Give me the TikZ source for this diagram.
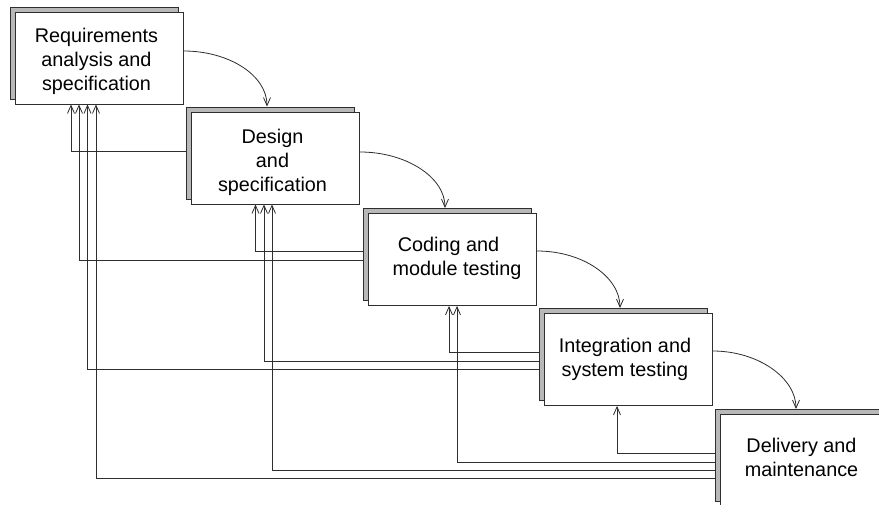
\documentclass[tikz,border=0pt]{standalone}
\usepackage{fontspec}
\setmainfont{Liberation Sans}
\usetikzlibrary{arrows.meta,shadows,backgrounds}
\definecolor{edge}{HTML}{2E2E2E}
\definecolor{shade}{HTML}{B8B8B8}
\begin{document}
\begin{tikzpicture}[x=1pt,y=-1pt,
  phase/.style={draw=edge, line width=0.9pt, fill=white,
    minimum width=168pt, minimum height=92pt, inner sep=0pt,
    general shadow={fill=shade, draw=edge, line width=0.9pt,
      shadow xshift=-5pt, shadow yshift=5pt}},
  caption/.style={align=center, inner sep=0pt,
    font=\fontsize{19.8}{24}\selectfont},
  flow/.style={draw=edge, line width=0.8pt,
    -{Straight Barb[length=8pt,width=7pt]}},
  back/.style={flow}]
\useasboundingbox (0,0) rectangle (879,505);

% the five phases of the waterfall
\node[phase] (b1) at (99,58) {};
\node[phase] (b2) at (275.5,158) {};
\node[phase] (b3) at (452.5,259.5) {};
\node[phase] (b4) at (628,359.5) {};
\node[phase] (b5) at (804,460.5) {};

\node[caption] (t1) at ([shift={(-2.5,3)}]b1.center) {Requirements\\analysis and\\specification};
\node[caption] (t2) at ([shift={(-3,4)}]b2.center) {Design\\and\\specification};
\node[caption] (t3) at ([shift={(0,-1)}]b3.center) {\hspace*{-8pt}Coding and\\module testing\kern-9pt};
\node[caption] (t4) at ([shift={(-3,0)}]b4.center) {Integration and\\system testing};
\node[caption] (t5) at ([shift={(-2.5,-3)}]b5.center) {Delivery and\\maintenance};

% forward flow between phases
\draw[flow] ([yshift=7pt]b1.east) .. controls +(46,0) and +(0,-31) .. ([shift={(-8.5,-5)}]b2.north);
\draw[flow] ([yshift=6pt]b2.east) .. controls +(46,0) and +(0,-31) .. ([shift={(-7.5,-5)}]b3.north);
\draw[flow] ([yshift=8.5pt]b3.east) .. controls +(46,0) and +(0,-31) .. ([shift={(-8,-5)}]b4.north);
\draw[flow] ([yshift=8.5pt]b4.east) .. controls +(46,0) and +(0,-31) .. ([shift={(-8,-5)}]b5.north);

% feedback to every earlier phase
\begin{pgfonlayer}{background}
  \fill[white] (0,0) rectangle (879,505);
  \draw[back] (b2.west |- 0,151)   -| (71,0 |- b1.south);
  \draw[back] (b3.west |- 0,260)   -| (79,0 |- b1.south);
  \draw[back] (b3.west |- 0,251)   -| (255.5,0 |- b2.south);
  \draw[back] (b4.west |- 0,352.5) -| (449,0 |- b3.south);
  \draw[back] (b4.west |- 0,361)   -| (264,0 |- b2.south);
  \draw[back] (b4.west |- 0,369)   -| (87.5,0 |- b1.south);
  \draw[back] (b5.west |- 0,453)   -| (617,0 |- b4.south);
  \draw[back] (b5.west |- 0,462)   -| (457,0 |- b3.south);
  \draw[back] (b5.west |- 0,470)   -| (272,0 |- b2.south);
  \draw[back] (b5.west |- 0,478)   -| (96,0 |- b1.south);
\end{pgfonlayer}
\end{tikzpicture}
\end{document}
